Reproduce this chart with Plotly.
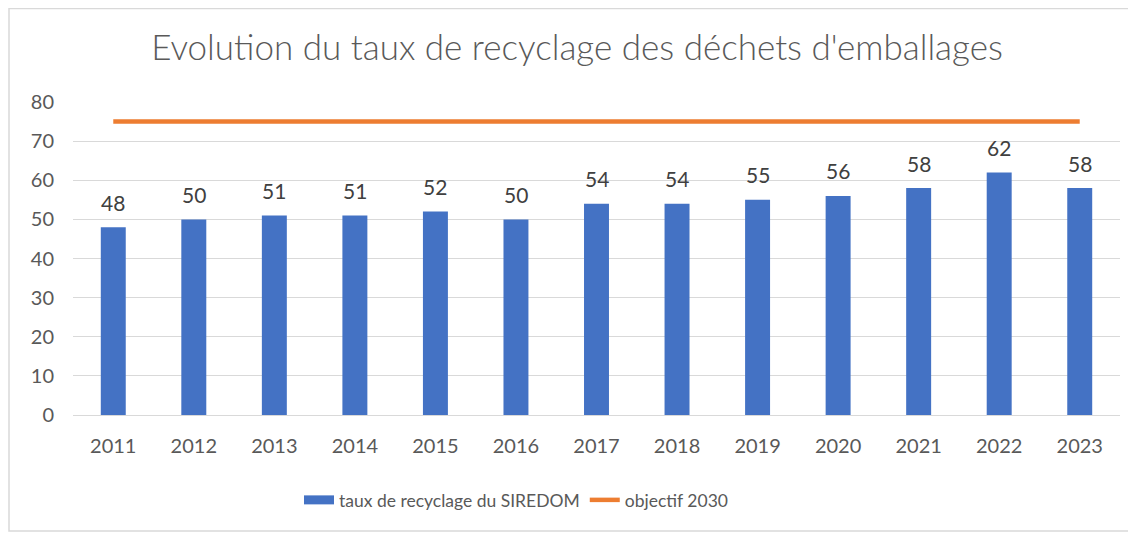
import plotly.graph_objects as go

years = ["2011", "2012", "2013", "2014", "2015", "2016", "2017", "2018", "2019", "2020", "2021", "2022", "2023"]
taux = [48, 50, 51, 51, 52, 50, 54, 54, 55, 56, 58, 62, 58]
objectif = [75] * len(years)

FONT = "Lato"
TXT = "#595959"
BLUE = "#4472C4"
ORANGE = "#ED7D31"

# figure placed at page offset 8px (body margin): coordinates below are in figure px
W, H = 1128, 525
L, R, T, B = 65, 16, 94, 118
pw, ph = W - L - R, H - T - B
OFF = 8  # reference px -> figure px

def px(x_ref):
    return (x_ref - OFF - L) / pw

def py(y_ref):
    return (H - B - (y_ref - OFF)) / ph

fig = go.Figure()
fig.add_trace(go.Bar(
    x=years, y=taux, name="taux de recyclage du SIREDOM",
    marker=dict(color=BLUE, line=dict(width=0)),
    width=0.31, showlegend=False, legendgroup="taux",
))
# legend entry for the bars (wide rectangle swatch as in reference)
fig.add_trace(go.Scatter(
    x=[years[0]], y=[None], name="taux de recyclage du SIREDOM", mode="lines",
    line=dict(color=BLUE, width=9), legendgroup="taux", showlegend=True,
))
fig.add_trace(go.Scatter(
    x=years, y=objectif, name="objectif 2030", mode="lines",
    line=dict(color=ORANGE, width=4.5),
))

# data labels (category index positions on the category axis)
for i, v in enumerate(taux):
    fig.add_annotation(x=i, y=v, text=str(v), showarrow=False,
                       yanchor="middle", yshift=25,
                       font=dict(family=FONT, size=21, color="#404040"))

fig.add_shape(type="rect", xref="paper", yref="paper",
              x0=px(9), x1=px(1135), y0=py(531), y1=py(8.5),
              line=dict(color="#D9D9D9", width=1.5), layer="below")

fig.update_layout(
    width=W, height=H,
    margin=dict(l=L, r=R, t=T, b=B),
    paper_bgcolor="white", plot_bgcolor="white",
    title=dict(text="Evolution du taux de recyclage des déchets d'emballages",
               x=(577 - OFF) / W, xanchor="center", y=1 - (48 - OFF) / H, yanchor="middle",
               font=dict(family=FONT, size=35, color=TXT, weight=300)),
    font=dict(family=FONT, color=TXT),
    bargap=0.69,
    showlegend=True,
    legend=dict(orientation="h", x=px(516), xanchor="center", y=py(500), yanchor="middle",
                font=dict(family=FONT, size=17.5, color=TXT),
                traceorder="normal", bgcolor="rgba(0,0,0,0)"),
    xaxis=dict(type="category", categoryorder="array", categoryarray=years,
               range=[-0.5, len(years) - 0.5],
               showgrid=False, showline=False, ticks="", ticklabelstandoff=17,
               tickfont=dict(family=FONT, size=20, color=TXT)),
    yaxis=dict(range=[0, 80], dtick=10, showgrid=True, gridcolor="#D9D9D9", gridwidth=1,
               zeroline=True, zerolinecolor="#D9D9D9", zerolinewidth=1,
               showline=False, ticks="", ticklabelstandoff=18,
               tickfont=dict(family=FONT, size=20, color=TXT)),
)

fig.write_html("out.html")
